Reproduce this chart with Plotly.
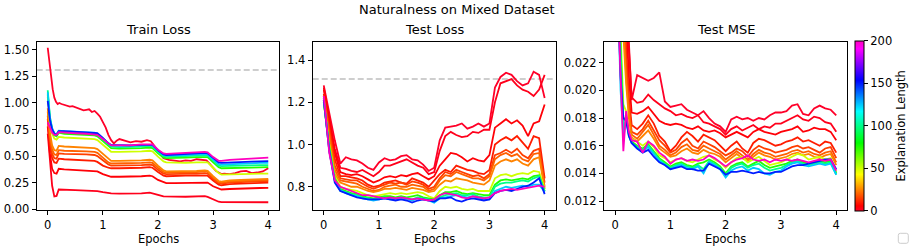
import plotly.graph_objects as go

W, H = 913, 249
FONT = "DejaVu Sans"

# ---------------- data ----------------
explanation_lengths = [0, 2, 5, 10, 15, 20, 25, 50, 75, 100, 125, 150, 200]

# Train loss: noisy run (length 0) has its own epoch grid
train_epochs_l0 = [0, 0.03, 0.06, 0.09, 0.12, 0.15, 0.18, 0.21, 0.25, 0.3, 0.35, 0.4, 0.45, 0.5, 0.55,
                   0.6, 0.65, 0.7, 0.75, 0.8, 0.85, 0.9, 0.95, 1.0, 1.05, 1.1, 1.15, 1.2, 1.25, 1.3,
                   1.4, 1.5, 1.6, 1.7, 1.8, 1.87, 1.93, 2.0, 2.05, 2.1, 2.2, 2.3, 2.4, 2.5, 2.6,
                   2.7, 2.8, 2.88, 2.95, 3.0, 3.05, 3.1, 3.15, 3.2, 3.3, 3.4, 3.5, 3.6, 3.7, 3.8, 3.9, 4.0]
train_loss_l0 = [1.52, 1.38, 1.25, 1.13, 1.05, 1.01, 0.99, 1.0, 0.99, 0.98, 0.97, 0.965, 0.97, 0.96, 0.95,
                 0.935, 0.93, 0.935, 0.94, 0.915, 0.925, 0.90, 0.87, 0.82, 0.77, 0.70, 0.65, 0.62, 0.645, 0.66,
                 0.645, 0.63, 0.64, 0.635, 0.65, 0.64, 0.60, 0.55, 0.52, 0.48, 0.465, 0.455, 0.45, 0.46, 0.455,
                 0.47, 0.465, 0.46, 0.42, 0.385, 0.36, 0.345, 0.33, 0.335, 0.33, 0.34, 0.355, 0.36, 0.34, 0.345, 0.355, 0.385]

train_epochs = [0, 0.04, 0.08, 0.12, 0.16, 0.2, 0.3, 0.5, 0.7, 0.85, 0.9, 1.0, 1.1, 1.15, 1.3, 1.5, 1.7, 1.85,
                1.9, 2.0, 2.1, 2.15, 2.3, 2.5, 2.7, 2.85, 2.9, 3.0, 3.1, 3.15, 3.3, 3.5, 3.7, 3.85, 4.0]
train_loss_l2 = [0.71, 0.45, 0.22, 0.12, 0.125, 0.185, 0.185, 0.18, 0.175, 0.172, 0.17, 0.16, 0.15, 0.148, 0.147, 0.145, 0.148, 0.155,
                 0.15, 0.135, 0.12, 0.118, 0.118, 0.117, 0.118, 0.122, 0.115, 0.09, 0.07, 0.066, 0.065, 0.066, 0.067, 0.066, 0.065]
train_loss_l5 = [0.78, 0.52, 0.38, 0.34, 0.335, 0.38, 0.375, 0.37, 0.365, 0.36, 0.355, 0.33, 0.31, 0.305, 0.305, 0.305, 0.31, 0.315,
                 0.31, 0.275, 0.25, 0.245, 0.245, 0.248, 0.25, 0.255, 0.25, 0.215, 0.19, 0.185, 0.19, 0.195, 0.197, 0.199, 0.20]
train_loss_l10 = [0.85, 0.60, 0.48, 0.44, 0.435, 0.475, 0.47, 0.465, 0.46, 0.455, 0.445, 0.41, 0.39, 0.385, 0.385, 0.385, 0.39, 0.395,
                  0.39, 0.35, 0.315, 0.31, 0.31, 0.315, 0.318, 0.32, 0.315, 0.27, 0.23, 0.225, 0.235, 0.24, 0.243, 0.247, 0.25]
train_loss_l15 = [0.88, 0.64, 0.52, 0.48, 0.475, 0.525, 0.52, 0.52, 0.515, 0.51, 0.50, 0.46, 0.42, 0.41, 0.41, 0.41, 0.415, 0.42,
                  0.415, 0.37, 0.335, 0.33, 0.33, 0.33, 0.335, 0.34, 0.335, 0.285, 0.245, 0.24, 0.25, 0.255, 0.258, 0.262, 0.265]
train_loss_l20 = [0.92, 0.68, 0.56, 0.515, 0.51, 0.555, 0.55, 0.55, 0.545, 0.54, 0.53, 0.485, 0.44, 0.43, 0.43, 0.432, 0.435, 0.44,
                  0.435, 0.39, 0.35, 0.345, 0.345, 0.345, 0.35, 0.355, 0.35, 0.30, 0.255, 0.25, 0.26, 0.265, 0.268, 0.272, 0.275]
train_loss_l25 = [0.95, 0.72, 0.60, 0.555, 0.55, 0.595, 0.59, 0.585, 0.58, 0.575, 0.565, 0.52, 0.47, 0.455, 0.455, 0.455, 0.46, 0.465,
                  0.46, 0.41, 0.365, 0.355, 0.355, 0.355, 0.36, 0.365, 0.36, 0.31, 0.265, 0.26, 0.27, 0.275, 0.278, 0.28, 0.285]
train_loss_l50 = [1.06, 0.82, 0.71, 0.665, 0.655, 0.68, 0.675, 0.67, 0.665, 0.66, 0.65, 0.605, 0.555, 0.54, 0.54, 0.54, 0.545, 0.55,
                  0.545, 0.495, 0.45, 0.44, 0.435, 0.435, 0.44, 0.445, 0.44, 0.39, 0.34, 0.325, 0.325, 0.33, 0.332, 0.334, 0.335]
train_loss_l75 = [1.08, 0.85, 0.74, 0.695, 0.685, 0.72, 0.71, 0.705, 0.70, 0.695, 0.685, 0.64, 0.59, 0.575, 0.57, 0.57, 0.575, 0.58,
                  0.575, 0.525, 0.485, 0.48, 0.48, 0.485, 0.49, 0.495, 0.49, 0.44, 0.395, 0.385, 0.385, 0.39, 0.392, 0.394, 0.395]
train_loss_l100 = [1.12, 0.87, 0.76, 0.71, 0.70, 0.735, 0.725, 0.72, 0.715, 0.71, 0.70, 0.655, 0.605, 0.59, 0.585, 0.585, 0.59, 0.595,
                   0.59, 0.54, 0.50, 0.495, 0.495, 0.50, 0.505, 0.51, 0.505, 0.46, 0.41, 0.405, 0.405, 0.41, 0.412, 0.414, 0.415]
train_loss_l125 = [1.10, 0.86, 0.76, 0.715, 0.705, 0.74, 0.735, 0.73, 0.725, 0.72, 0.71, 0.665, 0.615, 0.60, 0.595, 0.595, 0.60, 0.605,
                   0.60, 0.55, 0.51, 0.505, 0.505, 0.51, 0.515, 0.52, 0.515, 0.47, 0.425, 0.42, 0.425, 0.43, 0.432, 0.435, 0.435]
train_loss_l150 = [1.02, 0.84, 0.75, 0.71, 0.70, 0.735, 0.735, 0.73, 0.725, 0.72, 0.715, 0.67, 0.62, 0.605, 0.60, 0.60, 0.605, 0.61,
                   0.605, 0.555, 0.515, 0.51, 0.515, 0.52, 0.525, 0.53, 0.525, 0.48, 0.44, 0.435, 0.44, 0.445, 0.448, 0.45, 0.452]
train_loss_l200 = [0.82, 0.76, 0.72, 0.70, 0.70, 0.725, 0.72, 0.715, 0.71, 0.705, 0.70, 0.66, 0.615, 0.60, 0.60, 0.60, 0.61, 0.615,
                   0.61, 0.56, 0.525, 0.52, 0.525, 0.533, 0.537, 0.54, 0.535, 0.49, 0.455, 0.455, 0.465, 0.47, 0.475, 0.48, 0.485]

test_epochs = [0, 0.1, 0.2, 0.3, 0.4, 0.5, 0.6, 0.7, 0.8, 0.9, 1.0, 1.1, 1.2, 1.3, 1.4, 1.5, 1.6, 1.7, 1.8, 1.9,
               2.0, 2.1, 2.2, 2.3, 2.4, 2.5, 2.6, 2.7, 2.8, 2.9, 3.0, 3.1, 3.2, 3.3, 3.4, 3.5, 3.6, 3.7, 3.8, 3.9, 4.0]
test_loss_l0 = [1.28, 1.15, 1.02, 0.91, 0.94, 0.93, 0.925, 0.91, 0.89, 0.88, 0.915, 0.935, 0.925, 0.93, 0.945, 0.95, 0.93, 0.925, 0.905, 0.875,
                0.89, 1.02, 1.08, 1.085, 1.09, 1.1, 1.075, 1.085, 1.1, 1.085, 1.1, 1.27, 1.32, 1.34, 1.33, 1.3, 1.28, 1.29, 1.345, 1.33, 1.22]
test_loss_l2 = [1.27, 1.13, 0.98, 0.89, 0.885, 0.875, 0.87, 0.88, 0.865, 0.85, 0.87, 0.9, 0.9, 0.91, 0.92, 0.93, 0.915, 0.9, 0.89, 0.86,
                0.87, 0.97, 1.04, 1.06, 1.045, 1.035, 1.04, 1.06, 1.055, 1.07, 1.07, 1.2, 1.29, 1.3, 1.31, 1.28, 1.26, 1.25, 1.23, 1.26, 1.33]
test_loss_l5 = [1.26, 1.12, 0.96, 0.87, 0.86, 0.855, 0.86, 0.85, 0.835, 0.82, 0.83, 0.845, 0.85, 0.845, 0.855, 0.85, 0.86, 0.865, 0.85, 0.835,
                0.85, 0.9, 0.93, 0.96, 0.955, 0.94, 0.92, 0.935, 0.925, 0.92, 0.95, 1.08, 1.1, 1.12, 1.1, 1.115, 1.09, 1.04, 1.1, 1.11, 1.19]
test_loss_l10 = [1.24, 1.08, 0.93, 0.85, 0.85, 0.845, 0.84, 0.83, 0.81, 0.8, 0.805, 0.82, 0.825, 0.83, 0.82, 0.815, 0.84, 0.83, 0.82, 0.8,
                 0.83, 0.86, 0.88, 0.87, 0.9, 0.89, 0.88, 0.875, 0.865, 0.86, 0.88, 1.0, 1.02, 1.035, 1.02, 1.04, 1.01, 0.98, 1.04, 1.03, 0.84]
test_loss_l15 = [1.23, 1.06, 0.9, 0.84, 0.835, 0.83, 0.83, 0.815, 0.8, 0.79, 0.8, 0.81, 0.82, 0.815, 0.82, 0.81, 0.825, 0.82, 0.81, 0.79,
                 0.8, 0.84, 0.87, 0.86, 0.88, 0.87, 0.86, 0.85, 0.855, 0.84, 0.86, 0.95, 0.96, 0.975, 0.96, 0.98, 0.95, 0.935, 0.97, 0.98, 0.82]
test_loss_l20 = [1.22, 1.04, 0.88, 0.83, 0.825, 0.82, 0.815, 0.8, 0.79, 0.78, 0.785, 0.8, 0.805, 0.81, 0.8, 0.8, 0.81, 0.805, 0.8, 0.78,
                 0.79, 0.83, 0.855, 0.85, 0.87, 0.86, 0.85, 0.84, 0.84, 0.83, 0.85, 0.93, 0.95, 0.96, 0.945, 0.955, 0.93, 0.92, 0.955, 0.96, 0.8]
test_loss_l25 = [1.21, 1.02, 0.86, 0.82, 0.81, 0.8, 0.8, 0.79, 0.78, 0.775, 0.78, 0.79, 0.79, 0.795, 0.79, 0.785, 0.795, 0.79, 0.785, 0.775,
                 0.78, 0.81, 0.83, 0.825, 0.84, 0.835, 0.83, 0.82, 0.815, 0.81, 0.83, 0.9, 0.92, 0.93, 0.92, 0.93, 0.91, 0.9, 0.93, 0.94, 0.79]
test_loss_l50 = [1.2, 1.0, 0.85, 0.8, 0.79, 0.785, 0.78, 0.77, 0.76, 0.755, 0.76, 0.765, 0.77, 0.765, 0.77, 0.765, 0.77, 0.775, 0.77, 0.755,
                 0.745, 0.78, 0.8, 0.795, 0.8, 0.79, 0.785, 0.79, 0.78, 0.78, 0.78, 0.84, 0.855, 0.86, 0.85, 0.86, 0.865, 0.86, 0.875, 0.87, 0.79]
test_loss_l75 = [1.2, 0.99, 0.84, 0.79, 0.78, 0.77, 0.765, 0.755, 0.75, 0.745, 0.75, 0.755, 0.755, 0.75, 0.755, 0.75, 0.755, 0.76, 0.75, 0.745,
                 0.74, 0.76, 0.775, 0.775, 0.78, 0.77, 0.765, 0.77, 0.765, 0.76, 0.76, 0.81, 0.83, 0.835, 0.83, 0.835, 0.84, 0.835, 0.85, 0.855, 0.78]
test_loss_l100 = [1.21, 0.98, 0.83, 0.78, 0.775, 0.765, 0.76, 0.75, 0.745, 0.74, 0.745, 0.75, 0.745, 0.745, 0.75, 0.745, 0.74, 0.75, 0.745, 0.74,
                  0.73, 0.75, 0.76, 0.765, 0.77, 0.76, 0.76, 0.765, 0.755, 0.75, 0.75, 0.8, 0.815, 0.82, 0.82, 0.825, 0.83, 0.825, 0.84, 0.85, 0.78]
test_loss_l125 = [1.22, 0.97, 0.83, 0.785, 0.77, 0.76, 0.755, 0.745, 0.74, 0.735, 0.74, 0.745, 0.74, 0.74, 0.745, 0.74, 0.735, 0.745, 0.74, 0.735,
                  0.725, 0.745, 0.75, 0.755, 0.76, 0.755, 0.75, 0.755, 0.745, 0.74, 0.74, 0.78, 0.79, 0.8, 0.795, 0.8, 0.805, 0.8, 0.81, 0.81, 0.775]
test_loss_l150 = [1.21, 0.97, 0.82, 0.78, 0.77, 0.76, 0.75, 0.745, 0.74, 0.74, 0.74, 0.745, 0.74, 0.735, 0.74, 0.735, 0.725, 0.735, 0.74, 0.735,
                  0.73, 0.745, 0.745, 0.75, 0.735, 0.73, 0.74, 0.745, 0.74, 0.735, 0.74, 0.77, 0.78, 0.785, 0.78, 0.79, 0.8, 0.805, 0.82, 0.84, 0.765]
test_loss_l200 = [1.23, 0.96, 0.83, 0.8, 0.79, 0.78, 0.77, 0.76, 0.76, 0.755, 0.75, 0.745, 0.75, 0.745, 0.75, 0.745, 0.74, 0.745, 0.74, 0.735,
                  0.74, 0.76, 0.77, 0.765, 0.76, 0.75, 0.745, 0.755, 0.75, 0.745, 0.75, 0.77, 0.78, 0.785, 0.79, 0.785, 0.79, 0.795, 0.8, 0.805, 0.8]

mse_epochs = [0, 0.05, 0.1, 0.15, 0.2, 0.25, 0.3, 0.4, 0.5, 0.6, 0.7, 0.8, 0.9, 1.0, 1.1, 1.2, 1.3, 1.4, 1.5, 1.6, 1.7,
              1.8, 1.9, 2.0, 2.1, 2.2, 2.3, 2.4, 2.5, 2.6, 2.7, 2.8, 2.9, 3.0, 3.1, 3.2, 3.3, 3.4, 3.5, 3.6, 3.7, 3.8, 3.9, 4.0]
test_mse_l0 = [0.045, 0.040, 0.035, 0.030, 0.026, 0.0235, 0.0193, 0.0211, 0.0209, 0.0207, 0.0209, 0.0213, 0.0192,
               0.0188, 0.0189, 0.0190, 0.0186, 0.0184, 0.0182, 0.0185, 0.0180, 0.0176, 0.0174,
               0.0170, 0.0179, 0.0181, 0.0179, 0.0180, 0.0178, 0.0180, 0.0179, 0.0182, 0.0184,
               0.0184, 0.0185, 0.0189, 0.0190, 0.0183, 0.0182, 0.0187, 0.0189, 0.0187, 0.0186, 0.0182]
test_mse_l2 = [0.045, 0.040, 0.035, 0.030, 0.026, 0.023, 0.0195, 0.0191, 0.0192, 0.0197, 0.0193, 0.0190, 0.0187,
               0.0185, 0.0182, 0.0183, 0.0181, 0.0180, 0.0182, 0.0177, 0.0176, 0.0174, 0.0172,
               0.0168, 0.0172, 0.0174, 0.0171, 0.0173, 0.0175, 0.0172, 0.0174, 0.0173, 0.0176,
               0.0176, 0.0178, 0.0180, 0.0182, 0.0179, 0.0178, 0.0181, 0.0180, 0.0177, 0.0176, 0.0170]
test_mse_l5 = [0.044, 0.039, 0.034, 0.029, 0.025, 0.021, 0.0184, 0.0183, 0.0185, 0.0188, 0.0183, 0.0178, 0.0176,
               0.0175, 0.0176, 0.0175, 0.0173, 0.0172, 0.0174, 0.0171, 0.0170, 0.0171, 0.0169,
               0.0166, 0.0168, 0.0170, 0.0168, 0.0166, 0.0170, 0.0172, 0.0170, 0.0169, 0.0168,
               0.0170, 0.0171, 0.0172, 0.0174, 0.0170, 0.0171, 0.0173, 0.0172, 0.0172, 0.0170, 0.0164]
test_mse_l10 = [0.042, 0.037, 0.032, 0.027, 0.023, 0.0195, 0.0175, 0.0172, 0.0176, 0.0182, 0.0176, 0.0167, 0.0163,
                0.0156, 0.0160, 0.0166, 0.0170, 0.0167, 0.0163, 0.0168, 0.0166, 0.0164, 0.0160,
                0.0156, 0.0160, 0.0163, 0.0158, 0.0155, 0.0162, 0.0165, 0.0164, 0.0162, 0.0160,
                0.0161, 0.0163, 0.0164, 0.0166, 0.0163, 0.0164, 0.0162, 0.0160, 0.0163, 0.0162, 0.0155]
test_mse_l15 = [0.041, 0.036, 0.031, 0.026, 0.022, 0.019, 0.0170, 0.0168, 0.0172, 0.0178, 0.0171, 0.0164, 0.0160,
                0.0155, 0.0157, 0.0162, 0.0165, 0.0160, 0.0158, 0.0163, 0.0161, 0.0159, 0.0156,
                0.0153, 0.0155, 0.0158, 0.0156, 0.0152, 0.0157, 0.0160, 0.0158, 0.0157, 0.0155,
                0.0156, 0.0157, 0.0159, 0.0160, 0.0158, 0.0159, 0.0157, 0.0155, 0.0158, 0.0159, 0.0151]
test_mse_l20 = [0.040, 0.035, 0.030, 0.025, 0.021, 0.0185, 0.0168, 0.0165, 0.0170, 0.0175, 0.0168, 0.0160, 0.0157,
                0.0153, 0.0155, 0.0159, 0.0161, 0.0157, 0.0156, 0.0160, 0.0158, 0.0156, 0.0154,
                0.0150, 0.0153, 0.0156, 0.0153, 0.0150, 0.0154, 0.0157, 0.0155, 0.0154, 0.0152,
                0.0153, 0.0154, 0.0156, 0.0157, 0.0155, 0.0156, 0.0154, 0.0153, 0.0155, 0.0156, 0.0148]
test_mse_l25 = [0.039, 0.034, 0.029, 0.024, 0.0205, 0.018, 0.0166, 0.0163, 0.0167, 0.0171, 0.0165, 0.0158, 0.0155,
                0.0152, 0.0153, 0.0156, 0.0158, 0.0155, 0.0154, 0.0157, 0.0155, 0.0154, 0.0152,
                0.0148, 0.0151, 0.0154, 0.0151, 0.0149, 0.0152, 0.0155, 0.0153, 0.0152, 0.0150,
                0.0151, 0.0152, 0.0154, 0.0155, 0.0153, 0.0154, 0.0152, 0.0151, 0.0153, 0.0154, 0.0146]
test_mse_l50 = [0.035, 0.030, 0.024, 0.0190, 0.0185, 0.0170, 0.0165, 0.0163, 0.0160, 0.0163, 0.0159, 0.0153, 0.0151,
                0.0148, 0.0150, 0.0151, 0.0149, 0.0148, 0.0150, 0.0152, 0.0153, 0.0150, 0.0148,
                0.0144, 0.0148, 0.0151, 0.0152, 0.0148, 0.0150, 0.0152, 0.0149, 0.0146, 0.0147,
                0.0148, 0.0150, 0.0152, 0.0154, 0.0153, 0.0150, 0.0151, 0.0152, 0.0150, 0.0151, 0.0141]
test_mse_l75 = [0.034, 0.029, 0.023, 0.0178, 0.0181, 0.0168, 0.0163, 0.0160, 0.0158, 0.0161, 0.0156, 0.0151, 0.0148,
                0.0145, 0.0147, 0.0148, 0.0146, 0.0145, 0.0147, 0.0148, 0.0150, 0.0148, 0.0145,
                0.0140, 0.0145, 0.0147, 0.0148, 0.0145, 0.0147, 0.0149, 0.0146, 0.0144, 0.0145,
                0.0146, 0.0147, 0.0149, 0.0150, 0.0148, 0.0147, 0.0148, 0.0149, 0.0148, 0.0149, 0.0140]
test_mse_l100 = [0.033, 0.028, 0.022, 0.0172, 0.0180, 0.0167, 0.0162, 0.0159, 0.0157, 0.0160, 0.0155, 0.0150, 0.0147,
                 0.0144, 0.0146, 0.0147, 0.0145, 0.0144, 0.0146, 0.0143, 0.0149, 0.0147, 0.0144,
                 0.0139, 0.0144, 0.0146, 0.0147, 0.0144, 0.0146, 0.0147, 0.0144, 0.0142, 0.0143,
                 0.0144, 0.0146, 0.0148, 0.0149, 0.0147, 0.0146, 0.0147, 0.0148, 0.0147, 0.0148, 0.0139]
test_mse_l125 = [0.032, 0.027, 0.020, 0.0165, 0.0180, 0.0168, 0.0162, 0.0158, 0.0156, 0.0159, 0.0154, 0.0149, 0.0146,
                 0.0143, 0.0145, 0.0146, 0.0144, 0.0143, 0.0145, 0.0140, 0.0148, 0.0146, 0.0143,
                 0.0137, 0.0142, 0.0144, 0.0145, 0.0142, 0.0144, 0.0143, 0.0140, 0.0139, 0.0141,
                 0.0142, 0.0145, 0.0147, 0.0148, 0.0146, 0.0145, 0.0146, 0.0147, 0.0146, 0.0147, 0.0139]
test_mse_l150 = [0.033, 0.027, 0.021, 0.0180, 0.0178, 0.0167, 0.0162, 0.0158, 0.0155, 0.0157, 0.0152, 0.0148, 0.0146,
                 0.0143, 0.0144, 0.0145, 0.0143, 0.0143, 0.0142, 0.0142, 0.0147, 0.0145, 0.0143,
                 0.0139, 0.0141, 0.0141, 0.0142, 0.0141, 0.0140, 0.0141, 0.0140, 0.0140, 0.0141,
                 0.0141, 0.0143, 0.0145, 0.0146, 0.0146, 0.0147, 0.0148, 0.0149, 0.0150, 0.0150, 0.0143]
test_mse_l200 = [0.032, 0.027, 0.021, 0.0156, 0.0185, 0.0170, 0.0164, 0.0163, 0.0155, 0.0163, 0.0160, 0.0155, 0.0152,
                 0.0147, 0.0150, 0.0151, 0.0149, 0.0150, 0.0149, 0.0150, 0.0153, 0.0151, 0.0148,
                 0.0145, 0.0148, 0.0150, 0.0151, 0.0153, 0.0150, 0.0149, 0.0150, 0.0148, 0.0150,
                 0.0149, 0.0150, 0.0149, 0.0150, 0.0149, 0.0148, 0.0149, 0.0150, 0.0149, 0.0150, 0.0142]

random_guess_loss = 1.31
x_ticks = [0, 1, 2, 3, 4]
train_y_ticks = [0.0, 0.25, 0.5, 0.75, 1.0, 1.25, 1.5]
test_loss_y_ticks = [0.8, 1.0, 1.2, 1.4]
mse_y_ticks = [0.012, 0.014, 0.016, 0.018, 0.020, 0.022]
colorbar_ticks = [0, 50, 100, 150, 200]

train_series = [
    (0, train_epochs_l0, train_loss_l0), (2, train_epochs, train_loss_l2), (5, train_epochs, train_loss_l5),
    (10, train_epochs, train_loss_l10), (15, train_epochs, train_loss_l15), (20, train_epochs, train_loss_l20),
    (25, train_epochs, train_loss_l25), (50, train_epochs, train_loss_l50), (75, train_epochs, train_loss_l75),
    (100, train_epochs, train_loss_l100), (125, train_epochs, train_loss_l125), (150, train_epochs, train_loss_l150),
    (200, train_epochs, train_loss_l200)]
test_series = [
    (0, test_loss_l0), (2, test_loss_l2), (5, test_loss_l5), (10, test_loss_l10), (15, test_loss_l15),
    (20, test_loss_l20), (25, test_loss_l25), (50, test_loss_l50), (75, test_loss_l75), (100, test_loss_l100),
    (125, test_loss_l125), (150, test_loss_l150), (200, test_loss_l200)]
mse_series = [
    (0, test_mse_l0), (2, test_mse_l2), (5, test_mse_l5), (10, test_mse_l10), (15, test_mse_l15),
    (20, test_mse_l20), (25, test_mse_l25), (50, test_mse_l50), (75, test_mse_l75), (100, test_mse_l100),
    (125, test_mse_l125), (150, test_mse_l150), (200, test_mse_l200)]

# ---------------- style ----------------
rainbow_stops = [(0.000, (255, 0, 41)), (0.030, (255, 0, 0)), (0.215, (255, 255, 0)), (0.400, (0, 255, 0)),
                 (0.586, (0, 255, 255)), (0.770, (0, 0, 255)), (0.954, (255, 0, 255)), (1.000, (255, 0, 191))]
colorscale = [[p, "rgb(%d,%d,%d)" % c] for p, c in rainbow_stops]


def rainbow(t):
    t = min(max(t, 0.0), 1.0)
    for (p0, c0), (p1, c1) in zip(rainbow_stops[:-1], rainbow_stops[1:]):
        if p0 <= t <= p1:
            f = (t - p0) / (p1 - p0) if p1 > p0 else 0
            return "rgb(%d,%d,%d)" % tuple(round(a + (b - a) * f) for a, b in zip(c0, c1))
    return "rgb(%d,%d,%d)" % rainbow_stops[-1][1]


def px_x(p):
    return p / W


def px_y(p):
    return 1 - p / H


LW = 1.8
TICK_SIZE = 11.5
PLOT_TOP, PLOT_BOTTOM = 41.7, 210.0
panels_px = [(36.7, 279.3), (312.7, 555.7), (604.0, 847.3)]

fig = go.Figure()

for L, xs, ys in train_series:
    fig.add_trace(go.Scatter(x=xs, y=ys, mode="lines", line=dict(color=rainbow(L / 200), width=LW),
                             xaxis="x", yaxis="y", showlegend=False, hoverinfo="skip"))
for L, ys in test_series:
    fig.add_trace(go.Scatter(x=test_epochs, y=ys, mode="lines", line=dict(color=rainbow(L / 200), width=LW),
                             xaxis="x2", yaxis="y2", showlegend=False, hoverinfo="skip"))
for L, ys in mse_series:
    fig.add_trace(go.Scatter(x=mse_epochs, y=ys, mode="lines", line=dict(color=rainbow(L / 200), width=LW),
                             xaxis="x3", yaxis="y3", showlegend=False, hoverinfo="skip"))

# colorbar carrier
fig.add_trace(go.Scatter(
    x=[None], y=[None], mode="markers", xaxis="x3", yaxis="y3", showlegend=False, hoverinfo="skip",
    marker=dict(color=[0], cmin=0, cmax=200, colorscale=colorscale, showscale=True,
                colorbar=dict(x=px_x(855), xanchor="left", xpad=0, ypad=0,
                              y=px_y((41 + 210.7) / 2), yanchor="middle",
                              len=(210.7 - 41) / H, lenmode="fraction",
                              thickness=9, thicknessmode="pixels",
                              outlinewidth=1, outlinecolor="black",
                              ticks="outside", ticklen=4, tickcolor="black", tickwidth=1,
                              tickvals=colorbar_ticks, tickfont=dict(size=TICK_SIZE, color="black", family=FONT),
                              title=dict(text="Explanation Length", side="right",
                                         font=dict(size=11.5, color="black", family=FONT))))))

axis_common = dict(showline=True, mirror=True, linecolor="black", linewidth=1, ticks="outside", ticklen=4,
                   tickwidth=1, tickcolor="black", showgrid=False, zeroline=False, automargin=False,
                   tickfont=dict(size=TICK_SIZE, color="black", family=FONT))
ydom = [px_y(PLOT_BOTTOM), px_y(PLOT_TOP)]

layout = dict(
    width=W, height=H, margin=dict(l=0, r=0, t=0, b=0, pad=0, autoexpand=False),
    paper_bgcolor="white", plot_bgcolor="white",
    font=dict(family=FONT, color="black", size=11),
    showlegend=False,
    xaxis=dict(domain=[px_x(panels_px[0][0]), px_x(panels_px[0][1])], range=[-0.2, 4.2], tickvals=x_ticks,
               anchor="y", **axis_common),
    xaxis2=dict(domain=[px_x(panels_px[1][0]), px_x(panels_px[1][1])], range=[-0.2, 4.2], tickvals=x_ticks,
                anchor="y2", **axis_common),
    xaxis3=dict(domain=[px_x(panels_px[2][0]), px_x(panels_px[2][1])], range=[-0.2, 4.2], tickvals=x_ticks,
                anchor="y3", **axis_common),
    yaxis=dict(domain=ydom, range=[-0.008, 1.577], tickvals=train_y_ticks, tickformat=".2f", anchor="x",
               **axis_common),
    yaxis2=dict(domain=ydom, range=[0.69, 1.487], tickvals=test_loss_y_ticks, tickformat=".1f", anchor="x2",
                **axis_common),
    yaxis3=dict(domain=ydom, range=[0.01135, 0.02352], tickvals=mse_y_ticks, tickformat=".3f", anchor="x3",
                **axis_common),
)
fig.update_layout(**layout)

# dashed reference line
for yref in ["y", "y2"]:
    xref = "x domain" if yref == "y" else "x2 domain"
    fig.add_shape(type="line", xref=xref, x0=0, x1=1, yref=yref, y0=random_guess_loss, y1=random_guess_loss,
                  line=dict(color="#bfbfbf", width=1.5, dash="6px,3px"), layer="below")

# titles
fig.add_annotation(text="Naturalness on Mixed Dataset", xref="paper", yref="paper", x=px_x(456.5), y=px_y(9.5),
                   xanchor="center", yanchor="middle", showarrow=False, font=dict(size=13, color="black", family=FONT))
for (x0, x1), title in zip(panels_px, ["Train Loss", "Test Loss", "Test MSE"]):
    fig.add_annotation(text=title, xref="paper", yref="paper", x=px_x((x0 + x1) / 2), y=px_y(29.5),
                       xanchor="center", yanchor="middle", showarrow=False,
                       font=dict(size=13, color="black", family=FONT))
    fig.add_annotation(text="Epochs", xref="paper", yref="paper", x=px_x((x0 + x1) / 2), y=px_y(238.5),
                       xanchor="center", yanchor="middle", showarrow=False,
                       font=dict(size=11.5, color="black", family=FONT))

# empty legend box (bottom right)
bx0, bx1, by0, by1, r = 898.3, 908.3, 233.3, 243.3, 2.0
path = ("M {a},{b} L {c},{b} Q {e},{b} {e},{f} L {e},{g} Q {e},{h} {c},{h} L {a},{h} Q {i},{h} {i},{g} "
        "L {i},{f} Q {i},{b} {a},{b} Z").format(
    a=px_x(bx0 + r), b=px_y(by0), c=px_x(bx1 - r), e=px_x(bx1), f=px_y(by0 + r), g=px_y(by1 - r),
    h=px_y(by1), i=px_x(bx0))
fig.add_shape(type="path", path=path, xref="paper", yref="paper", line=dict(color="#cccccc", width=1),
              fillcolor="white")

fig.write_html("out.html", config={"displayModeBar": False, "staticPlot": True},
               post_script="document.body.style.margin='0px';document.body.style.overflow='hidden';")
